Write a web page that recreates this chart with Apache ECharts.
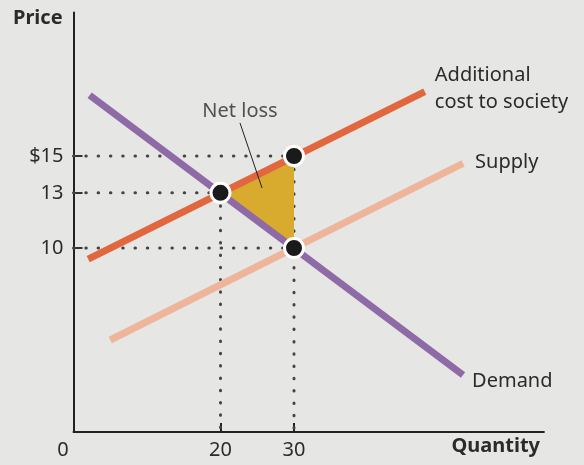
<!DOCTYPE html>
<html>
<head>
<meta charset="utf-8">
<script src="https://cdn.jsdelivr.net/npm/echarts@6/dist/echarts.min.js"></script>
<style>
  html, body { margin: 0; padding: 0; background: #e6e7e4; }
  #chart { width: 584px; height: 465px; }
</style>
</head>
<body>
<div id="chart"></div>
<script>
// Line segments: [quantity, price] endpoints
const demandLine = [[2.2, 18.3], [53, 3.1]];
const socialCostLine = [[2, 9.4], [47.8, 18.5]];
const supplyLine = [[5, 5], [53, 14.6]];

// Key points: market equilibrium, efficient point, and cost at market quantity
const keyPoints = [[20, 13], [30, 15], [30, 10]];
// Net loss triangle
const netLossArea = [[20, 13], [30, 15], [30, 10]];
// Leader line for the "Net loss" note
const netLossPointer = [[22.65, 16.8], [25.65, 13.26]];

// Tick labels
const priceTicks = [10, 13, 15];
const quantityTicks = [20, 30];

const FONT = '"Noto Sans", "Open Sans", sans-serif';
const TEXT = '#2b2b2b';
const SIZE = 20;

// Dotted guide lines from each key point to both axes
function guide(x, y, toXAxis) {
  const pts = [[0, y], [x, y]];
  if (toXAxis) pts.push([x, 0]);
  return {
    type: 'line', data: pts, symbol: 'none', silent: true, z: 1,
    lineStyle: { color: '#444', width: 3, type: [0.5, 11.8], cap: 'round' }
  };
}

const chart = echarts.init(document.getElementById('chart'));
chart.setOption({
  backgroundColor: '#e6e7e4',
  animation: false,
  grid: { left: 73.5, right: 40.1, top: 12.5, bottom: 33, containLabel: false },
  xAxis: {
    type: 'value', min: 0, max: 64,
    axisLine: { show: true, lineStyle: { color: '#222', width: 2 } },
    axisTick: { show: true, inside: true, length: 9, customValues: quantityTicks,
      lineStyle: { color: '#222', width: 2 } },
    axisLabel: {
      customValues: [0].concat(quantityTicks), margin: 8,
      color: TEXT, fontFamily: FONT, fontSize: SIZE,
      formatter: v => v === 0 ? '{z|0}' : String(v),
      rich: { z: { fontFamily: FONT, fontSize: SIZE, color: TEXT, padding: [0, 21, 0, 0] } }
    },
    splitLine: { show: false }
  },
  yAxis: {
    type: 'value', min: 0, max: 22.8,
    axisLine: { show: true, lineStyle: { color: '#222', width: 2 } },
    axisTick: { show: true, inside: true, length: 9, customValues: priceTicks,
      lineStyle: { color: '#333', width: 2 } },
    axisLabel: {
      customValues: priceTicks, margin: 10,
      color: TEXT, fontFamily: FONT, fontSize: SIZE,
      formatter: v => v === 15 ? '$15' : String(v)
    },
    splitLine: { show: false }
  },
  graphic: [
    { type: 'text', left: 13, top: 8,
      style: { text: 'Price', font: 'bold 20px ' + FONT, fill: TEXT } },
    { type: 'text', right: 44, top: 436,
      style: { text: 'Quantity', font: 'bold 20px ' + FONT, fill: TEXT } }
  ],
  series: [
    guide(30, 15, true),
    guide(20, 13, true),
    guide(30, 10, false),
    {
      type: 'custom', z: 2, silent: true,
      renderItem: (params, api) => ({
        type: 'polygon',
        shape: { points: netLossArea.map(p => api.coord(p)) },
        style: { fill: '#d8aa2e' }
      }),
      data: [0]
    },
    {
      name: 'Supply', type: 'line', data: supplyLine, symbol: 'none', z: 3,
      lineStyle: { color: '#efb59a', width: 7 },
      endLabel: { show: true, formatter: '{a}', offset: [4, -1],
        color: TEXT, fontFamily: FONT, fontSize: SIZE }
    },
    {
      name: 'Additional\ncost to society', type: 'line', data: socialCostLine, symbol: 'none', z: 4,
      lineStyle: { color: '#e2673f', width: 7 },
      endLabel: { show: true, formatter: '{a}', offset: [2, -3], align: 'left',
        lineHeight: 27, color: TEXT, fontFamily: FONT, fontSize: SIZE }
    },
    {
      name: 'Demand', type: 'line', data: demandLine, symbol: 'none', z: 5,
      lineStyle: { color: '#8e6aa6', width: 7 },
      endLabel: { show: true, formatter: '{a}', offset: [1, 6],
        color: TEXT, fontFamily: FONT, fontSize: SIZE }
    },
    {
      type: 'line', data: netLossPointer, symbol: 'none', z: 6, silent: true,
      lineStyle: { color: '#222', width: 1 },
      label: { show: false }
    },
    {
      type: 'scatter', data: [netLossPointer[0]], symbolSize: 0, z: 6, silent: true,
      label: { show: true, position: 'top', formatter: 'Net loss', offset: [0, 3],
        color: TEXT, fontFamily: FONT, fontSize: SIZE }
    },
    {
      type: 'scatter', data: keyPoints, symbolSize: 19, z: 7,
      itemStyle: { color: '#1a1a1a', borderColor: '#ffffff', borderWidth: 3, opacity: 1 }
    }
  ]
});
</script>
</body>
</html>
